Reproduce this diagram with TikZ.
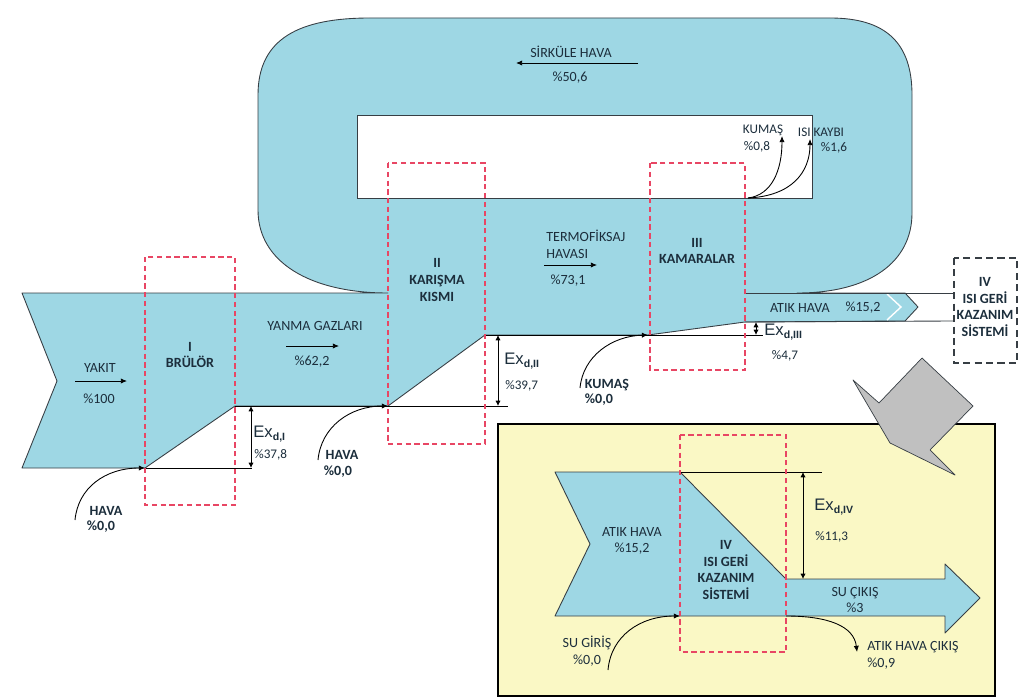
\documentclass[tikz,border=0pt]{standalone}
\usepackage{fontspec}
\setmainfont{Carlito}
\newfontfamily\exfont{Liberation Sans}
\usetikzlibrary{arrows.meta}

\definecolor{flowblue}{RGB}{158,215,228}
\definecolor{insetyellow}{RGB}{250,248,197}
\definecolor{stagered}{RGB}{232,70,100}
\definecolor{arrowgrey}{RGB}{192,192,192}
\definecolor{labelink}{RGB}{28,46,60}
\definecolor{edgegrey}{RGB}{55,62,68}

\tikzset{
    flow/.style={fill=flowblue, draw=edgegrey, line width=0.5pt, line join=round},
    stagebox/.style={draw=stagered, dash pattern=on 3pt off 2pt, line width=0.7pt},
    lbl/.style={text=labelink, font=\fontsize{8}{9.5}\selectfont, inner sep=0pt, align=center},
    blbl/.style={lbl, font=\fontsize{8}{9.5}\selectfont\bfseries},
    small/.style={lbl, font=\fontsize{7.5}{8.5}\selectfont},
    inarrow/.style={draw=black, line width=0.5pt, -{Latex[length=3.5pt,width=3pt]}},
    exarrow/.style={draw=black, line width=0.5pt, {Latex[length=3pt,width=3pt]}-{Latex[length=3pt,width=3pt]}},
}
\newcommand\exd[1]{{\exfont\fontsize{9.5}{10}\selectfont Ex}\raisebox{-0.55ex}{\exfont\bfseries\fontsize{6}{7}\selectfont #1}}

\begin{document}
\begin{tikzpicture}[x=0.02cm, y=-0.02cm]
    \useasboundingbox (0,0) rectangle (1024,699);

    % main flow with the circulation loop
    \draw[flow] (22,293) -- (388,293)
        .. controls (310,293) and (258,262) .. (258,210) -- (258,95)
        .. controls (258,38) and (300,18) .. (370,18) -- (830,18)
        .. controls (885,18) and (912,42) .. (912,95) -- (912,213)
        .. controls (912,262) and (870,293) .. (797,293)
        -- (905,293) -- (918,307) -- (905,321) -- (745,322) -- (648,335)
        -- (485,335) -- (388,406) -- (235,406) -- (145,468) -- (22,468)
        -- (57,381) -- cycle;
    \draw[white, line width=0.8pt] (887,294) -- (901,307) -- (887,320);
    \draw[fill=white, draw=edgegrey, line width=0.5pt] (357,115) rectangle (812,198);
    \draw[edgegrey, line width=0.5pt] (745,293) -- (953,293);
    \draw[edgegrey, line width=0.5pt] (745,322) -- (953,321);

    % reference lines
    \draw[line width=0.5pt] (145,468) -- (252,468);
    \draw[line width=0.5pt] (235,406) -- (508,406);
    \draw[line width=0.5pt] (485,335) -- (763,335);

    % stages
    \draw[stagebox] (145,257) rectangle (235,505);
    \draw[stagebox] (388,163) rectangle (485,444);
    \draw[stagebox] (650,163) rectangle (745,370);
    \draw[draw=edgegrey, dash pattern=on 4pt off 2.5pt, line width=0.8pt] (954,258) rectangle (1017,363);

    % named points
    \coordinate (burnerIn) at (145,468);
    \coordinate (mixIn) at (388,406);
    \coordinate (chamberIn) at (648,335);
    \coordinate (chamberOut) at (748,198);

    % inputs and outputs
    \draw[inarrow] (75,520) .. controls (78,488) and (105,468) .. (burnerIn);
    \draw[inarrow] (318,460) .. controls (321,427) and (350,406) .. (mixIn);
    \draw[inarrow] (580,388) .. controls (583,356) and (612,336) .. (chamberIn);
    \draw[inarrow] (chamberOut) .. controls (772,195) and (782,170) .. (782,136);
    \draw[inarrow] (chamberOut) .. controls (792,196) and (810,172) .. (810,139);

    % exergy destruction
    \draw[exarrow] (251,406) -- (251,468);
    \draw[exarrow] (498,335) -- (498,406);
    \draw[exarrow] (756,322) -- (756,335);

    % flow labels
    \node[lbl] (yakit) at (100,368) {YAKIT};
    \draw[inarrow] (75,381) -- (127,381);
    \node[lbl] (yakitVal) at (99,399) {\%100};
    \node[blbl] (burner) at (190,355) {I\\BRÜLÖR};
    \node[lbl] (gas) at (315,326) {YANMA GAZLARI};
    \draw[inarrow] (286,346) -- (339,346);
    \node[lbl] (gasVal) at (312,362) {\%62,2};
    \node[blbl] (mixer) at (437,280) {II\\KARIŞMA\\KISMI};
    \node[lbl, align=left, anchor=west] (thermo) at (546,244) {TERMOFİKSAJ\\HAVASI};
    \draw[inarrow] (544,265) -- (597,265);
    \node[lbl] (thermoVal) at (568,281) {\%73,1};
    \node[blbl] (chamber) at (697,251) {III\\KAMARALAR};
    \node[lbl] (circ) at (571,52) {SİRKÜLE HAVA};
    \draw[inarrow] (638,63) -- (516,63);
    \node[lbl] (circVal) at (570,78) {\%50,6};
    \node[lbl] (waste) at (800,308) {ATIK HAVA};
    \node[lbl] (wasteVal) at (863,308) {\%15,2};
    \node[blbl] (recovery) at (985,307) {IV\\ISI GERİ\\KAZANIM\\SİSTEMİ};

    % input and loss labels
    \node[blbl] (air1) at (106,511) {HAVA};
    \node[blbl] (air1Val) at (101,527) {\%0,0};
    \node[blbl] (air2) at (342,455) {HAVA};
    \node[blbl] (air2Val) at (338,472) {\%0,0};
    \node[blbl] (fabric) at (607,385) {KUMAŞ};
    \node[blbl] (fabricVal) at (599,400) {\%0,0};
    \node[small] (fabOut) at (763,130) {KUMAŞ};
    \node[small] (fabOutVal) at (757,147) {\%0,8};
    \node[small] (heat) at (821,132) {ISI KAYBI};
    \node[small] (heatVal) at (834,148) {\%1,6};
    \node[lbl, anchor=west] (ex1) at (253,434) {\exd{d,I}};
    \node[small, anchor=west] (ex1Val) at (254,455) {\%37,8};
    \node[lbl, anchor=west] (ex2) at (504,361) {\exd{d,II}};
    \node[small, anchor=west] (ex2Val) at (505,386) {\%39,7};
    \node[lbl, anchor=west] (ex3) at (764,332) {\exd{d,III}};
    \node[small] (ex3Val) at (785,356) {\%4,7};

    % heat recovery detail
    \draw[fill=insetyellow, draw=black, line width=0.8pt] (498,424) rectangle (995,696);
    \draw[fill=arrowgrey, draw=edgegrey, line width=0.4pt, line join=round]
        (853,380) -- (879,403) -- (922,358) -- (973,406) -- (930,450)
        -- (955,475) -- (890,443) -- cycle;
    \draw[flow] (555,472) -- (680,472) -- (786,579) -- (945,579) -- (945,564)
        -- (980,598) -- (945,633) -- (945,616) -- (555,616) -- (590,544) -- cycle;
    \draw[line width=0.5pt] (680,472) -- (822,472);
    \draw[stagebox] (680,435) rectangle (786,652);
    \coordinate (recIn) at (680,616);
    \coordinate (recOut) at (786,616);
    \draw[inarrow] (608,670) .. controls (611,636) and (640,616) .. (recIn);
    \draw[inarrow] (recOut) .. controls (828,616) and (854,626) .. (857,652);
    \draw[exarrow] (803,472) -- (803,579);

    \node[lbl] (wasteIn) at (632,541) {ATIK HAVA\\\%15,2};
    \node[blbl] (recStage) at (726,570) {IV\\ISI GERİ\\KAZANIM\\SİSTEMİ};
    \node[lbl] (water) at (855,600) {SU ÇIKIŞ\\\%3};
    \node[lbl] (waterIn) at (587,651) {SU GİRİŞ\\\%0,0};
    \node[lbl, anchor=west, align=left] (wasteOut) at (867,655) {ATIK HAVA ÇIKIŞ\\\%0,9};
    \node[lbl, anchor=west] (ex4) at (814,507) {\exd{d,IV}};
    \node[small, anchor=west] (ex4Val) at (815,537) {\%11,3};
\end{tikzpicture}
\end{document}
